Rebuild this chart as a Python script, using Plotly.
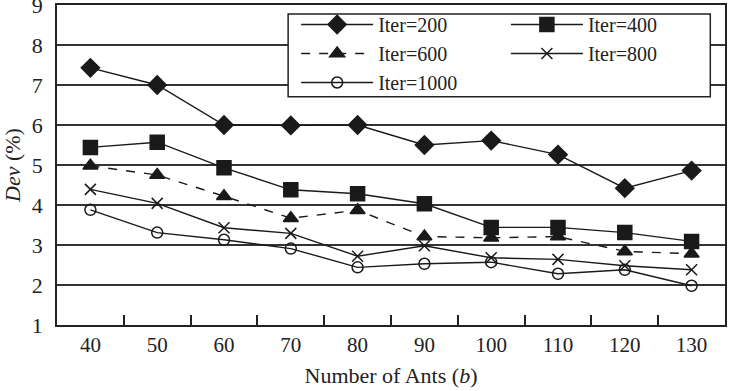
import plotly.graph_objects as go

ants = ["40", "50", "60", "70", "80", "90", "100", "110", "120", "130"]
iter200 = [7.43, 7.00, 6.00, 5.99, 6.00, 5.50, 5.61, 5.26, 4.42, 4.86]
iter400 = [5.44, 5.57, 4.93, 4.38, 4.28, 4.03, 3.44, 3.44, 3.31, 3.09]
iter600 = [4.98, 4.75, 4.22, 3.67, 3.87, 3.21, 3.18, 3.21, 2.84, 2.78]
iter800 = [4.39, 4.04, 3.43, 3.29, 2.72, 2.98, 2.68, 2.64, 2.48, 2.38]
iter1000 = [3.88, 3.31, 3.13, 2.91, 2.44, 2.53, 2.57, 2.28, 2.38, 1.98]

FONT = "Liberation Serif"
INK = "#1a1a1a"
fig = go.Figure()

series = [
    ("Iter=200", iter200, "diamond", "solid", 14, "legend"),
    ("Iter=600", iter600, "triangle-up", "dash", 13, "legend"),
    ("Iter=1000", iter1000, "circle-open", "solid", 11, "legend"),
    ("Iter=400", iter400, "square", "solid", 14, "legend2"),
    ("Iter=800", iter800, "x-thin-open", "solid", 11, "legend2"),
]
for name, vals, sym, dash, size, leg in series:
    fig.add_trace(go.Scatter(
        x=ants, y=vals, name=name, mode="lines+markers",
        line=dict(color=INK, width=1.4, dash=dash),
        marker=dict(symbol=sym, size=size, color=INK,
                    line=dict(color=INK, width=1.5)),
        legend=leg,
    ))

fig.update_layout(
    width=735, height=391,
    margin=dict(l=57, r=10, t=5, b=66, autoexpand=False),
    paper_bgcolor="white", plot_bgcolor="white",
    font=dict(family=FONT, size=22, color="#222"),
    showlegend=True,
    legend=dict(x=0.358, y=1.0, xanchor="left", yanchor="top",
                bgcolor="rgba(0,0,0,0)", font=dict(family=FONT, size=20, color="#222"),
                tracegroupgap=0, itemwidth=72),
    legend2=dict(x=0.672, y=1.0, xanchor="left", yanchor="top",
                 bgcolor="rgba(0,0,0,0)", font=dict(family=FONT, size=20, color="#222"),
                 tracegroupgap=0, itemwidth=72),
    shapes=[dict(type="rect", xref="paper", yref="paper",
                 x0=0.346, x1=0.978, y0=0.713, y1=0.972,
                 line=dict(color="#222", width=1.5), fillcolor="white", layer="above")],
)
fig.update_xaxes(
    type="category", range=[-0.5, 9.5], automargin=False,
    showline=True, linecolor="#222", linewidth=1.5, mirror=True,
    ticks="inside", tickson="boundaries", ticklen=10, tickcolor="#222", tickwidth=1.5,
    showgrid=False,
    title=dict(text="Number of Ants (<i>b</i>)", font=dict(family=FONT, size=22), standoff=12),
    tickfont=dict(family=FONT, size=21),
)
fig.update_yaxes(
    range=[0.999, 9.001], tickvals=[1, 2, 3, 4, 5, 6, 7, 8, 9], automargin=False,
    showline=True, linecolor="#222", linewidth=1.5, mirror=True,
    ticks="", showgrid=True, gridcolor="#333", gridwidth=1.5,
    title=dict(text="<i>Dev</i> (%)", font=dict(family=FONT, size=22), standoff=14),
    tickfont=dict(family=FONT, size=22), ticklabelstandoff=8,
    ticklabeloverflow="allow",
    zeroline=False,
)
fig.write_html("out.html")
